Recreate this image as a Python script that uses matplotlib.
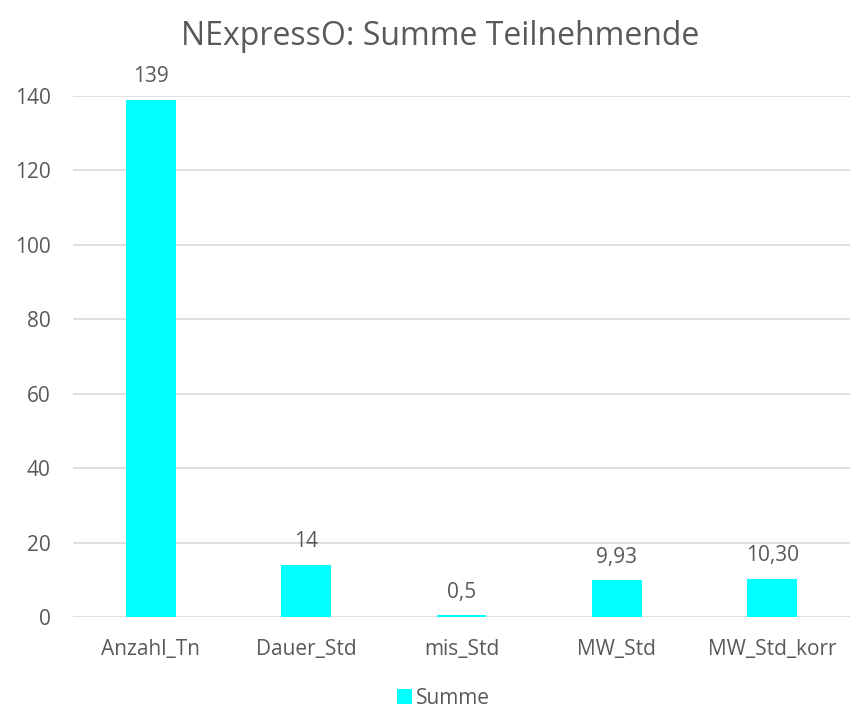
import matplotlib.pyplot as plt

# Daten
kategorien = ["Anzahl_Tn", "Dauer_Std", "mis_Std", "MW_Std", "MW_Std_korr"]
summe = [139, 14, 0.5, 9.93, 10.30]
beschriftungen = ["139", "14", "0,5", "9,93", "10,30"]
y_ticks = [0, 20, 40, 60, 80, 100, 120, 140]

TEXT = "#595959"
GRID = "#D9D9D9"
CYAN = "#00FFFF"

plt.rcParams['font.family'] = ['Open Sans', 'DejaVu Sans']

fig = plt.figure(figsize=(8.51, 7.12), dpi=100)
ax = fig.add_axes([73 / 851, 95 / 712, 777 / 851, 521 / 712])

x = range(len(kategorien))
bars = ax.bar(x, summe, width=0.32, color=CYAN, zorder=3, label="Summe")

for b, txt in zip(bars, beschriftungen):
    ax.annotate(txt, (b.get_x() + b.get_width() / 2, b.get_height()),
                xytext=(0, 9), textcoords="offset points",
                ha="center", va="bottom", fontsize=15, color=TEXT)

ax.set_xlim(-0.5, len(kategorien) - 0.5)
ax.set_ylim(0, 140)
ax.set_yticks(y_ticks)
ax.set_xticks(list(x))
ax.set_xticklabels(kategorien)
ax.tick_params(axis="both", length=0, labelsize=15, labelcolor=TEXT)
ax.tick_params(axis="x", pad=16)
ax.tick_params(axis="y", pad=16)
ax.yaxis.grid(True, color=GRID, linewidth=1.2, zorder=0)
for s in ax.spines.values():
    s.set_visible(False)

fig.suptitle("NExpressO: Summe Teilnehmende", x=0.517, y=0.972, fontsize=23, color=TEXT)

leg = fig.legend(handles=[bars], labels=["Summe"], loc="center",
                 bbox_to_anchor=(0.521, 0.019), frameon=False, fontsize=15,
                 handlelength=0.7, handleheight=0.7, handletextpad=0.2,
                 borderpad=0.2)
for t in leg.get_texts():
    t.set_color(TEXT)

fig.savefig("out.png", dpi=100)
